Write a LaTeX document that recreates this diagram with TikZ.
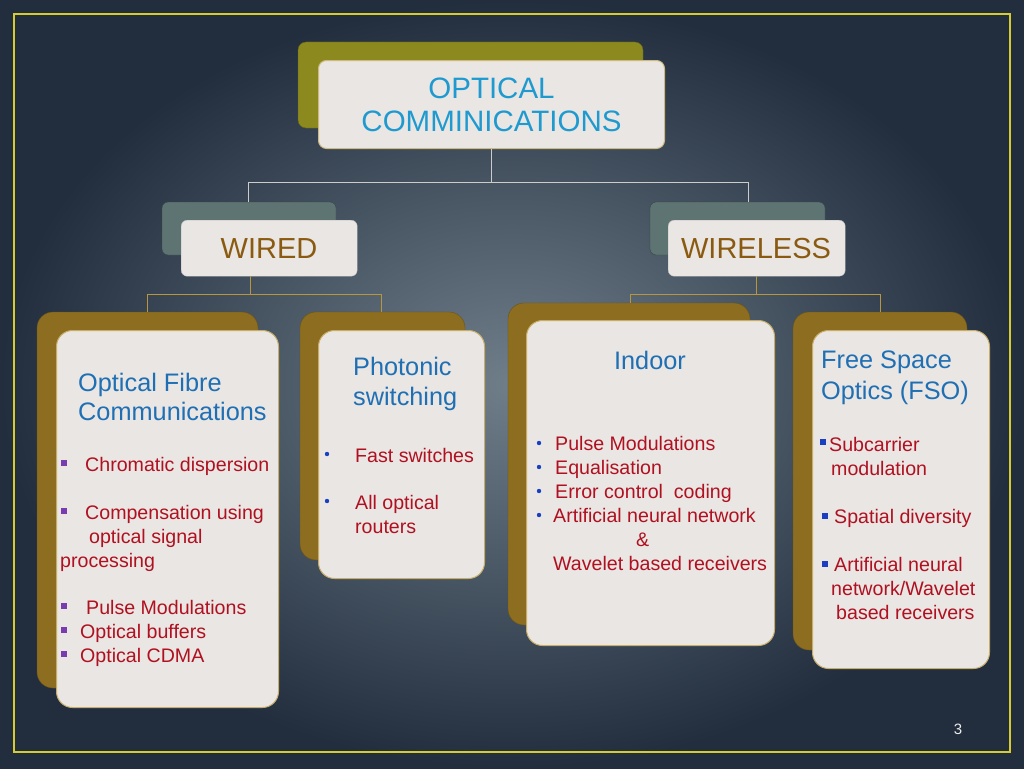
\documentclass[tikz,border=0pt]{standalone}
\usepackage{fontspec}
\setmainfont{Liberation Sans}
\begin{document}
\begin{tikzpicture}[x=1pt,y=-1pt,
  back/.style={rounded corners=16pt,fill=gold!80!black,draw=gold!60!black},
  front/.style={rounded corners=16pt,fill=boxbg,draw=gold!70!white,line width=1pt},
  headtxt/.style={anchor=base west,inner sep=0pt,text=headblue,font=\fontsize{25.3}{30}\selectfont},
  itm/.style={anchor=base west,inner sep=0pt,text=itemred,font=\fontsize{19.6}{24}\selectfont},
  lvl/.style={anchor=base,inner sep=0pt,text=lvlbrown,font=\fontsize{29}{33}\selectfont},
  gline/.style={draw=lightgray!80!white,line width=0.8pt},
  yline/.style={draw=gold!90!white,line width=0.8pt},
  psq/.style={fill=sqpurple},
  bdot/.style={fill=dotblue}]
\definecolor{gold}{HTML}{B08A28}
\definecolor{boxbg}{HTML}{E9E6E3}
\definecolor{headblue}{HTML}{1F6FB4}
\definecolor{itemred}{HTML}{B01020}
\definecolor{lvlbrown}{HTML}{8A5A10}
\definecolor{sqpurple}{HTML}{7A3AB0}
\definecolor{dotblue}{HTML}{1A3FC0}
\definecolor{olive}{HTML}{8C8A1E}
\definecolor{teal}{HTML}{5E7472}
\useasboundingbox (0,0) rectangle (1024,768);
\shade[inner color={rgb,255:red,112;green,126;blue,138},outer color={rgb,255:red,34;green,46;blue,62}] (0,0) rectangle (1024,768);
\draw[draw={rgb,255:red,214;green,204;blue,50},line width=2pt] (14,14) rectangle (1010,752);
% top
\draw[rounded corners=8pt,fill=olive,draw=olive!70!black] (298,42) rectangle (643,128);
\node[rounded corners=8pt,fill=boxbg,draw=gold!60!white,line width=1pt,minimum width=346pt,minimum height=88pt,inner sep=0pt,anchor=north west,align=center,text={rgb,255:red,31;green,154;blue,208},font=\fontsize{29.5}{33}\selectfont] (top) at (318,60) {OPTICAL\\COMMINICATIONS};
% level 2
\draw[rounded corners=6pt,fill=teal,draw=teal!60!black] (162,202) rectangle (336,255);
\draw[rounded corners=6pt,fill=teal,draw=teal!60!black] (650,202) rectangle (825,255);
\node[rounded corners=6pt,fill=boxbg,draw=gray!50,minimum width=176pt,minimum height=56pt,inner sep=0pt,anchor=north west] (wired) at (181,220) {};
\node[rounded corners=6pt,fill=boxbg,draw=gray!50,minimum width=177pt,minimum height=56pt,inner sep=0pt,anchor=north west] (wireless) at (668,220) {};
\node[lvl] at (269,258) {WIRED};
\node[lvl] at (756,258) {WIRELESS};
% connectors top
\draw[gline] (top.south) -- (top.south |- 0,182);
\draw[gline] (248,182) -- (748,182);
\draw[gline] (248,182) -- (248,202);
\draw[gline] (748,182) -- (748,202);
% level 3 boxes
\draw[back] (37,312) rectangle (258,688);
\node[front,minimum width=222pt,minimum height=377pt,inner sep=0pt,anchor=north west] (fibre) at (56,330) {};
\draw[back] (300,312) rectangle (465,560);
\node[front,minimum width=166pt,minimum height=248pt,inner sep=0pt,anchor=north west] (phot) at (318,330) {};
\draw[back] (508,303) rectangle (750,625);
\node[front,minimum width=248pt,minimum height=325pt,inner sep=0pt,anchor=north west] (indoor) at (526,320) {};
\draw[back] (793,312) rectangle (967,650);
\node[front,minimum width=177pt,minimum height=338pt,inner sep=0pt,anchor=north west] (fso) at (812,330) {};
% connectors lower
\draw[yline] ([xshift=-19pt]wired.south) -- ++(0,18);
\draw[yline] (147,294) -- (381,294);
\draw[yline] (147,294) -- (147,312);
\draw[yline] (381,294) -- (381,312);
\draw[yline] (wireless.south) -- ++(0,18);
\draw[yline] (630,294) -- (880,294);
\draw[yline] (630,294) -- (630,303);
\draw[yline] (880,294) -- (880,312);
% fibre text
\node[headtxt] at (78,391) {Optical Fibre};
\node[headtxt] at (78,420) {Communications};
\foreach \y in {464,512,607,631,655} \fill[psq] (61,\y-4) rectangle (67,\y+2);
\node[itm] at (85,471) {Chromatic dispersion};
\node[itm] at (85,519) {Compensation using};
\node[itm] at (89,543) {optical signal};
\node[itm] at (60,567) {processing};
\node[itm] at (86,614) {Pulse Modulations};
\node[itm] at (80,638) {Optical buffers};
\node[itm] at (80,662) {Optical CDMA};
% photonic
\node[headtxt] at (353,375) {Photonic};
\node[headtxt] at (353,405) {switching};
\fill[bdot] (327,454) circle (2.2pt);
\fill[bdot] (327,501) circle (2.2pt);
\node[itm] at (355,462) {Fast switches};
\node[itm] at (355,509) {All optical};
\node[itm] at (355,533) {routers};
% indoor
\node[headtxt,anchor=base] at (650,369) {Indoor};
\foreach \y in {443,467,491,515} \fill[bdot] (539,\y) circle (2.2pt);
\node[itm] at (555,450) {Pulse Modulations};
\node[itm] at (555,474) {Equalisation};
\node[itm] at (555,498) {Error control\ \ coding};
\node[itm] at (553,522) {Artificial neural network};
\node[itm] at (636,546) {\&};
\node[itm] at (553,570) {Wavelet based receivers};
% fso
\node[headtxt] at (821,368) {Free Space};
\node[headtxt] at (821,399) {Optics (FSO)};
\fill[dotblue] (820,439) rectangle (826,445);
\fill[dotblue] (822,513) rectangle (828,519);
\fill[dotblue] (822,561) rectangle (828,567);
\node[itm] at (829,451) {Subcarrier};
\node[itm] at (831,475) {modulation};
\node[itm] at (834,523) {Spatial diversity};
\node[itm] at (834,571) {Artificial neural};
\node[itm] at (831,595) {network/Wavelet};
\node[itm] at (836,619) {based receivers};
\node[anchor=base,inner sep=0pt,text=white!85!gray,font=\fontsize{15}{16}\selectfont] (pg) at (958,734) {3};
\end{tikzpicture}
\end{document}
